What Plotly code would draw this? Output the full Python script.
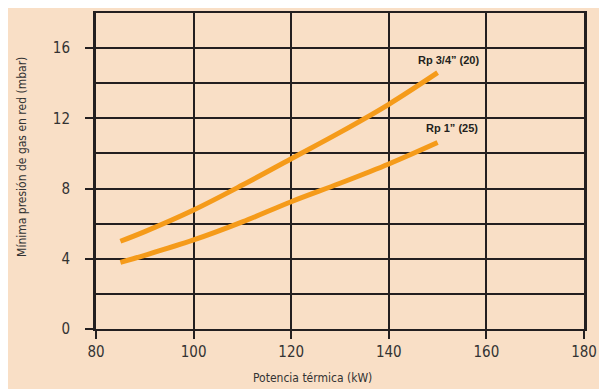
import plotly.graph_objects as go

# Potencia térmica (kW)
potencia = [85, 90, 100, 110, 120, 130, 140, 150]
# Mínima presión (mbar) por conexión
rp_34 = [5.0, 5.55, 6.78, 8.2, 9.7, 11.2, 12.8, 14.6]
rp_1 = [3.8, 4.2, 5.07, 6.1, 7.25, 8.3, 9.4, 10.62]

labels = ["Rp 3/4\u201d (20)", "Rp 1\u201d (25)"]
label_x = [152.3, 153.0]
label_y = [15.35, 11.47]

bg = "#F9DFC6"
orange = "#F59B1A"
ink = "#231F20"
narrow = "DejaVu Sans Condensed, Roboto, sans-serif"

fig = go.Figure()
for ys in (rp_34, rp_1):
    fig.add_trace(go.Scatter(
        x=potencia, y=ys, mode="lines",
        line=dict(color=orange, width=5, shape="spline", smoothing=1.0),
        showlegend=False, hoverinfo="skip",
    ))

for text, lx, ly in zip(labels, label_x, label_y):
    fig.add_annotation(x=lx, y=ly, text=f"<b>{text}</b>", showarrow=False,
                       font=dict(family="Liberation Sans, Arial, sans-serif", size=11, color=ink))

# axis titles sit off-centre in the original, so place them as annotations
fig.add_annotation(x=0.443, y=-0.155, xref="paper", yref="paper", showarrow=False,
                   xanchor="center", yanchor="middle",
                   text="Potencia térmica (kW)", font=dict(size=12, color="#333333"))
fig.add_annotation(x=-0.152, y=0.544, xref="paper", yref="paper", showarrow=False,
                   xanchor="center", yanchor="middle",
                   text="Mínima presión de gas en red (mbar)", textangle=-90,
                   font=dict(size=12, color="#333333"))

# page body adds an 8px offset, so the figure is a bit smaller
fig.update_layout(
    width=599, height=381,
    paper_bgcolor=bg, plot_bgcolor=bg,
    margin=dict(l=88, r=23, t=5, b=60),
    font=dict(family=narrow, color="#333333"),
)
fig.update_xaxes(
    range=[80, 180], tickvals=[80, 100, 120, 140, 160, 180],
    ticks="outside", ticklen=8, tickwidth=2, tickcolor=ink,
    showgrid=True, gridcolor=ink, gridwidth=2,
    showline=True, linecolor=ink, linewidth=2, mirror=True,
    zeroline=False, tickfont=dict(size=15), automargin=False,
)
fig.update_yaxes(
    range=[0, 18], tickvals=[0, 4, 8, 12, 16],
    ticks="outside", ticklen=8, tickwidth=2, tickcolor=ink,
    showgrid=True, gridcolor=ink, gridwidth=2,
    minor=dict(tickvals=[2, 6, 10, 14, 18], showgrid=True, gridcolor=ink, gridwidth=2),
    showline=True, linecolor=ink, linewidth=3, mirror=True,
    zeroline=False, tickfont=dict(size=15), automargin=False,
    ticklabelstandoff=12,
)

fig.write_html("out.html")
